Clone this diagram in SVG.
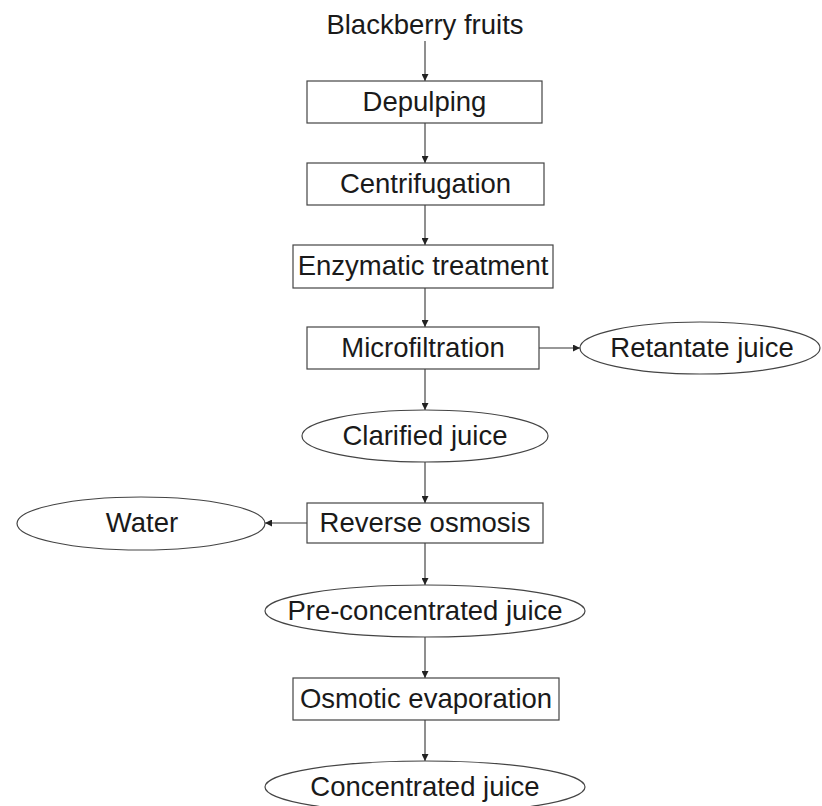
<svg xmlns="http://www.w3.org/2000/svg" width="822" height="806" viewBox="0 0 822 806">
<style>
.box{fill:#fff;stroke:#444;stroke-width:1.2}
.ell{fill:#fff;stroke:#444;stroke-width:1.2}
.lbl{font-family:"Liberation Sans",Arial,sans-serif;font-size:27.5px;fill:#1a1a1a;text-anchor:middle}
.con{stroke:#333;stroke-width:1.1;fill:none;marker-end:url(#ah)}
</style>
<defs>
<marker id="ah" viewBox="0 0 10 10" refX="10" refY="5" markerWidth="7" markerHeight="7" markerUnits="userSpaceOnUse" orient="auto">
<path d="M0,0 L10,5 L0,10 z" fill="#222"/>
</marker>
</defs>
<rect width="822" height="806" fill="#fff"/>
<g id="connectors">
<line class="con" x1="425" y1="41" x2="425" y2="81"/>
<line class="con" x1="425" y1="123" x2="425" y2="163"/>
<line class="con" x1="425" y1="205" x2="425" y2="245"/>
<line class="con" x1="425" y1="288" x2="425" y2="327"/>
<line class="con" x1="425" y1="369" x2="425" y2="410"/>
<line class="con" x1="539" y1="348" x2="580" y2="348"/>
<line class="con" x1="425" y1="462" x2="425" y2="503"/>
<line class="con" x1="307" y1="523" x2="265" y2="523"/>
<line class="con" x1="425" y1="543" x2="425" y2="585"/>
<line class="con" x1="425" y1="637" x2="425" y2="678"/>
<line class="con" x1="425" y1="720" x2="425" y2="761"/>
</g>
<g id="blackberry"><text class="lbl" x="425" y="34">Blackberry fruits</text></g>
<g id="depulping"><rect class="box" x="307" y="81" width="235" height="42"/><text class="lbl" x="424.5" y="111">Depulping</text></g>
<g id="centrifugation"><rect class="box" x="307" y="163" width="237" height="42"/><text class="lbl" x="425.5" y="193">Centrifugation</text></g>
<g id="enzymatic"><rect class="box" x="293" y="245" width="260" height="43"/><text class="lbl" x="423" y="275">Enzymatic treatment</text></g>
<g id="microfiltration"><rect class="box" x="307" y="327" width="232" height="42"/><text class="lbl" x="423" y="357">Microfiltration</text></g>
<g id="retantate"><ellipse class="ell" cx="700" cy="348" rx="120" ry="26"/><text class="lbl" x="702" y="357">Retantate juice</text></g>
<g id="clarified"><ellipse class="ell" cx="425" cy="436" rx="123" ry="26"/><text class="lbl" x="425" y="445">Clarified juice</text></g>
<g id="reverse-osmosis"><rect class="box" x="307" y="503" width="236" height="40"/><text class="lbl" x="425" y="532">Reverse osmosis</text></g>
<g id="water"><ellipse class="ell" cx="141" cy="523.5" rx="124" ry="26.5"/><text class="lbl" x="142" y="532">Water</text></g>
<g id="pre-concentrated"><ellipse class="ell" cx="425" cy="611" rx="160" ry="26"/><text class="lbl" x="425" y="620">Pre-concentrated juice</text></g>
<g id="osmotic"><rect class="box" x="293" y="678" width="266" height="42"/><text class="lbl" x="426" y="708">Osmotic evaporation</text></g>
<g id="concentrated"><ellipse class="ell" cx="425" cy="787" rx="160" ry="26"/><text class="lbl" x="425" y="796">Concentrated juice</text></g>
</svg>
